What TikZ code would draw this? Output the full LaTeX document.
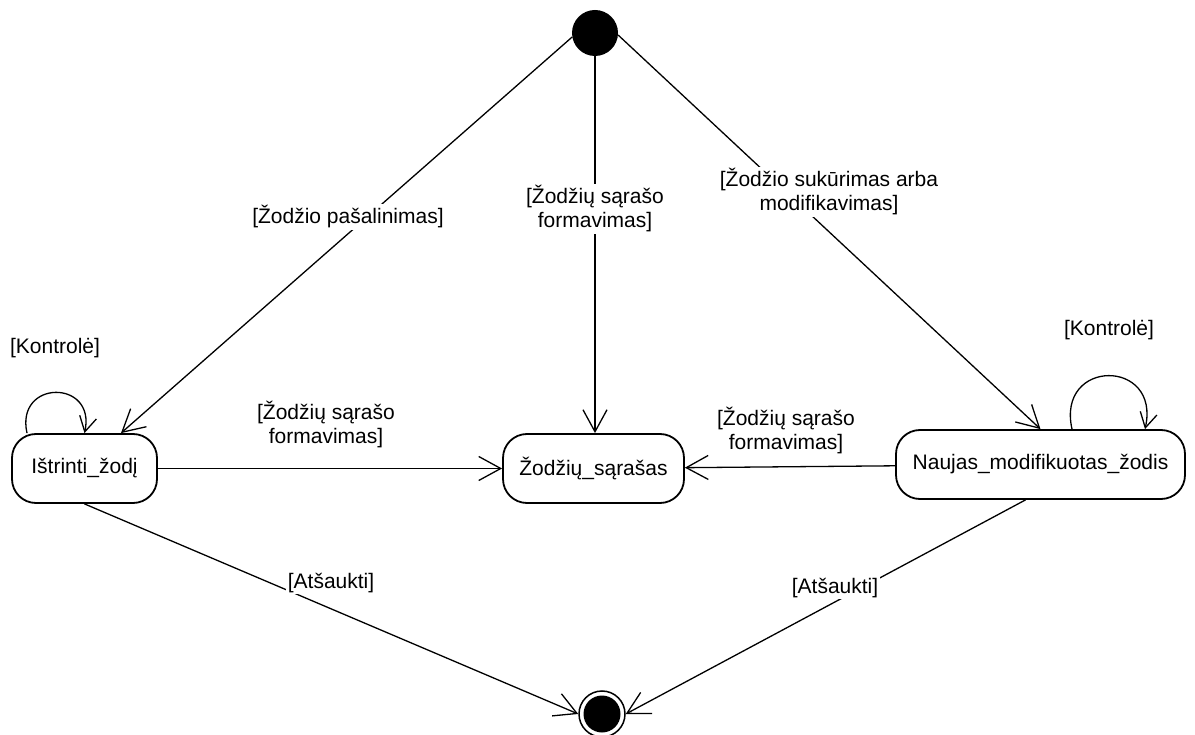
\documentclass[tikz,border=0pt]{standalone}
\usepackage{fontspec}
\setmainfont{Liberation Sans}
\usetikzlibrary{arrows.meta}
\tikzset{
  txt/.style={font=\fontsize{21}{24}\selectfont},
  state/.style={txt, draw, line width=1.8pt, rounded corners=24pt, minimum height=69pt, inner sep=0pt},
  lbl/.style={txt, fill=white, inner sep=1.5pt, align=center},
  tr/.style={line width=1.3pt, -{Straight Barb[length=22pt,width=24pt,line width=1.3pt]}},
  selftr/.style={line width=1.3pt, -{Straight Barb[length=15pt,width=17pt,line width=1.3pt]}},
}
\begin{document}
\begin{tikzpicture}[x=1pt,y=-1pt]
\useasboundingbox (0,0) rectangle (1195,735);
% states
\node[state, minimum width=145pt] (del) at (84.5,468.5) {Ištrinti\_žodį};
\node[state, minimum width=181pt] (mid) at (593.5,468.5) {Žodžių\_sąrašas};
\node[state, minimum width=289pt] (nau) at (1040.5,464.5) {Naujas\_modifikuotas\_žodis};
% pseudo states
\node[circle, fill=black, minimum size=46pt, inner sep=0pt] (start) at (595,33) {};
\node[circle, draw, line width=1.5pt, minimum size=46pt, inner sep=0pt] (end) at (602,714) {};
\node[circle, fill=black, minimum size=37pt, inner sep=0pt] (endin) at (end) {};
% transitions
\draw[tr] (start.190) -- ([xshift=36.5pt]del.north);
\draw[tr] (start) -- (start |- mid.north);
\draw[tr] (start.-5) -- (nau.north);
\draw[tr] (del) -- (mid);
\draw[tr] (nau) -- (mid);
\draw[tr] (del.south) -- (end.west);
\draw[tr] ([xshift=-15pt]nau.south) -- (end.east);
% self loops
\draw[selftr] ([xshift=-57.5pt]del.north) .. controls +(-12,-54) and +(12,-54) .. (del.north);
\draw[selftr] ([xshift=31.5pt]nau.north) .. controls +(-16,-71) and +(16,-71) .. ([xshift=104.5pt]nau.north);
% labels
\node[lbl] (l1) at (348,217) {[Žodžio pašalinimas]};
\node[lbl] (l2) at (595,209) {[Žodžių sąrašo\\formavimas]};
\node[lbl] (l3) at (829,192) {[Žodžio sukūrimas arba\\modifikavimas]};
\node[lbl] (l4) at (326,425) {[Žodžių sąrašo\\formavimas]};
\node[lbl] (l5) at (786,431) {[Žodžių sąrašo\\formavimas]};
\node[lbl] (l6) at (331,583) {[Atšaukti]};
\node[lbl] (l7) at (835,588) {[Atšaukti]};
\node[lbl] (l8) at (55,348) {[Kontrolė]};
\node[lbl] (l9) at (1109,330) {[Kontrolė]};
\end{tikzpicture}
\end{document}
